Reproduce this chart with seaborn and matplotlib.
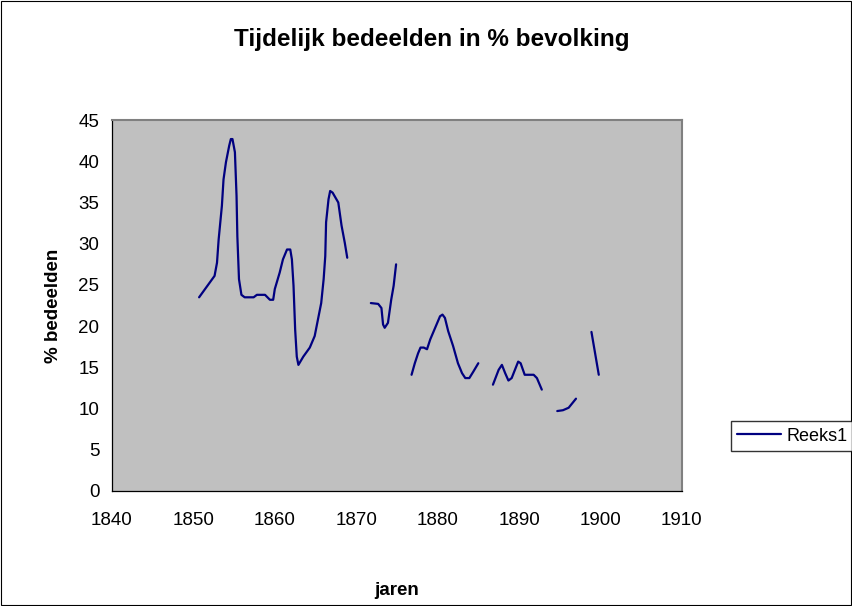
import matplotlib

matplotlib.use("Agg")

import matplotlib.pyplot as plt
import pandas as pd
import seaborn as sns
from matplotlib.lines import Line2D
from matplotlib.patches import Rectangle

# traced series, split where the original has gaps
jaren_1 = [1850.7, 1852.6, 1852.9, 1853.1, 1853.5, 1853.7, 1854.0, 1854.4, 1854.6, 1854.8,
           1855.1, 1855.3, 1855.4, 1855.6, 1855.9, 1856.3, 1857.4, 1857.8, 1858.8, 1859.4,
           1859.8, 1860.0, 1860.6, 1861.0, 1861.5, 1861.9, 1862.1, 1862.3, 1862.5, 1862.7,
           1862.9, 1863.5, 1864.3, 1864.9, 1865.3, 1865.7, 1866.0, 1866.2, 1866.3, 1866.6,
           1866.8, 1867.1, 1867.8, 1868.2, 1868.6, 1868.9]
pct_1 = [23.5, 26.1, 27.7, 30.5, 34.6, 37.8, 39.9, 41.9, 42.7, 42.7,
         41.1, 35.8, 30.9, 25.7, 23.8, 23.5, 23.5, 23.8, 23.8, 23.2,
         23.2, 24.5, 26.5, 28.1, 29.3, 29.3, 28.1, 24.9, 19.6, 16.3,
         15.3, 16.3, 17.4, 18.8, 20.8, 22.8, 25.7, 28.5, 32.6, 35.4,
         36.4, 36.2, 35.0, 32.2, 30.1, 28.3]

jaren_2 = [1871.8, 1872.7, 1873.1, 1873.3, 1873.5, 1873.9, 1874.3, 1874.6, 1874.9]
pct_2 = [22.8, 22.7, 22.2, 20.2, 19.8, 20.4, 23.2, 24.9, 27.5]

jaren_3 = [1876.8, 1877.2, 1877.6, 1877.9, 1878.3, 1878.7, 1879.1, 1879.7, 1880.3, 1880.6,
           1880.9, 1881.3, 1881.9, 1882.5, 1883.0, 1883.4, 1883.9, 1884.4, 1885.0]
pct_3 = [14.1, 15.5, 16.7, 17.4, 17.4, 17.2, 18.4, 19.8, 21.2, 21.4,
         21.0, 19.4, 17.6, 15.5, 14.3, 13.7, 13.7, 14.5, 15.5]

jaren_4 = [1886.8, 1887.5, 1887.9, 1888.3, 1888.7, 1889.1, 1889.5, 1889.9, 1890.2, 1890.7,
           1891.1, 1891.8, 1892.2, 1892.8]
pct_4 = [12.9, 14.7, 15.3, 14.3, 13.4, 13.7, 14.7, 15.7, 15.5, 14.1,
         14.1, 14.1, 13.7, 12.3]

jaren_5 = [1894.7, 1895.4, 1896.1, 1897.0]
pct_5 = [9.7, 9.8, 10.1, 11.2]

jaren_6 = [1898.9, 1899.8]
pct_6 = [19.3, 14.1]

x_ticks = list(range(1840, 1911, 10))
y_ticks = list(range(0, 46, 5))

segments = [(jaren_1, pct_1), (jaren_2, pct_2), (jaren_3, pct_3),
            (jaren_4, pct_4), (jaren_5, pct_5), (jaren_6, pct_6)]
df = pd.concat(
    [pd.DataFrame({"jaar": j, "pct": p, "segment": i}) for i, (j, p) in enumerate(segments)],
    ignore_index=True,
)

sns.set_style("white", rc={"text.color": "black", "axes.labelcolor": "black",
                           "xtick.color": "black", "ytick.color": "black"})
plt.rcParams["font.family"] = ["Liberation Sans", "DejaVu Sans"]

line_color = "#000080"

fig = plt.figure(figsize=(8.53, 6.06), dpi=100)
ax = fig.add_axes([0.1313, 0.1898, 0.668, 0.612])
ax.set_facecolor("#C0C0C0")

sns.lineplot(data=df, x="jaar", y="pct", units="segment", estimator=None, sort=False,
             color=line_color, linewidth=1.6, ax=ax)

ax.set_xlim(1840, 1910)
ax.set_ylim(0, 45)
ax.set_xticks(x_ticks)
ax.set_yticks(y_ticks)
ax.tick_params(axis="x", direction="inout", length=8, width=0.8, labelsize=13.5, pad=11)
ax.tick_params(axis="y", direction="out", length=5, width=0.8, labelsize=13.5, pad=4)

for side in ("top", "right"):
    ax.spines[side].set_color("#808080")
    ax.spines[side].set_linewidth(1.5)
for side in ("left", "bottom"):
    ax.spines[side].set_color("black")
    ax.spines[side].set_linewidth(0.9)

ax.set_xlabel("jaren", fontsize=13.5, fontweight="bold", labelpad=38)
ax.set_ylabel("% bedeelden", fontsize=13.5, fontweight="bold", labelpad=12)
fig.text(0.5065, 0.934, "Tijdelijk bedeelden in % bevolking", fontsize=17.5,
         fontweight="bold", ha="center", va="center", color="black")

handle = Line2D([], [], color=line_color, linewidth=1.6)
fig.legend([handle], ["Reeks1"], loc="center left", bbox_to_anchor=(0.857, 0.2805),
           fontsize=13, frameon=True, fancybox=False, edgecolor="black",
           handlelength=2.4, handletextpad=0.3, borderpad=0.35, borderaxespad=0)

fig.patches.append(Rectangle((0.001, 0.001), 0.997, 0.997, transform=fig.transFigure,
                             fill=False, edgecolor="black", linewidth=0.8))

fig.savefig("out.png", dpi=100)
